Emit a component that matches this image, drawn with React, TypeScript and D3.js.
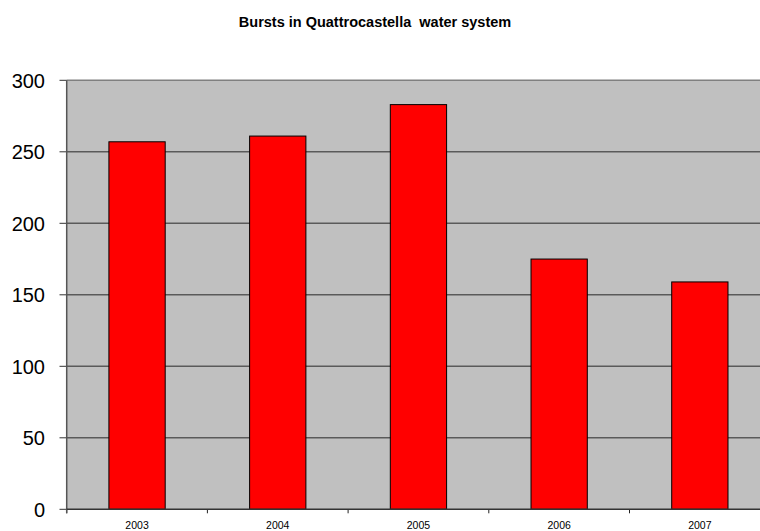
import React from "react";
import * as d3 from "d3";

const years = ["2003", "2004", "2005", "2006", "2007"];
const bursts = [257, 261, 283, 175, 159];
const yTicks = [0, 50, 100, 150, 200, 250, 300];
const title = "Bursts in Quattrocastella  water system";

export default function App() {
  const W = 760, H = 531;
  const left = 66.7, top = 80.3, bottom = 509.3;
  const band = 140.7;
  const x = d3.scaleBand<string>().domain(years).range([left, left + band * years.length]).paddingInner(0).paddingOuter(0);
  const y = d3.scaleLinear().domain([0, 300]).range([bottom, top]);
  const bw = x.bandwidth() * 0.4;
  const right = left + band * years.length;
  return (
    <svg width={W} height={H} style={{ position: "absolute", left: 0, top: 0 }} fontFamily="Arial, 'Liberation Sans', sans-serif">
      <rect x={0} y={0} width={W} height={H} fill="#fff" />
      <text x={375} y={27} textAnchor="middle" fontSize={14.5} fontWeight="bold" style={{ whiteSpace: "pre" }}>{title}</text>
      <rect x={left} y={top} width={right - left} height={bottom - top} fill="#C0C0C0" />
      <line x1={left} x2={right} y1={top} y2={top} stroke="#808080" strokeWidth={1.5} />
      {yTicks.map(t => (
        <g key={t}>
          {t > 0 && t < 300 && <line x1={left} x2={right} y1={y(t)} y2={y(t)} stroke="#5a5a5a" strokeWidth={1.5} />}
          <line x1={59.5} x2={left} y1={y(t)} y2={y(t)} stroke="#333" strokeWidth={1} />
          <text x={45} y={y(t)} dy="0.36em" textAnchor="end" fontSize={20}>{t}</text>
        </g>
      ))}
      {years.map((yr, i) => {
        const cx = (x(yr) as number) + x.bandwidth() / 2;
        return (
          <g key={yr}>
            <rect x={cx - bw / 2} y={y(bursts[i])} width={bw} height={bottom - y(bursts[i])} fill="#FF0000" stroke="#000" strokeWidth={1} />
            <text x={cx} y={529} textAnchor="middle" fontSize={10.5}>{yr}</text>
          </g>
        );
      })}
      {years.map((yr, i) => (
        <line key={"t" + i} x1={x(yr) as number} x2={x(yr) as number} y1={bottom} y2={bottom + 4} stroke="#222" strokeWidth={1} />
      ))}
      <line x1={left} x2={left} y1={top} y2={bottom + 4} stroke="#555" strokeWidth={1.5} />
      <line x1={left} x2={right} y1={bottom} y2={bottom} stroke="#333" strokeWidth={1.5} />
    </svg>
  );
}
